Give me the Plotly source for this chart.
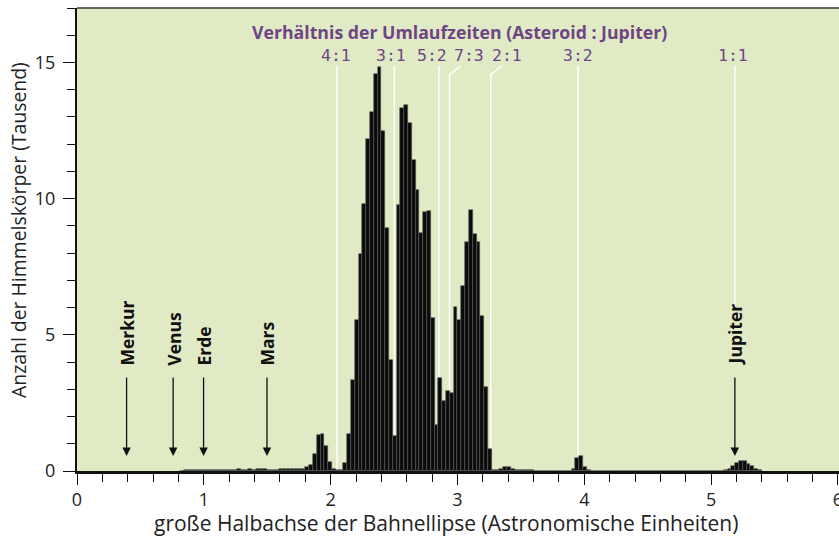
import plotly.graph_objects as go

# ---------------- data ----------------
bin_width = 0.03          # AU
first_bin_left = 0.81     # AU, left edge of first listed bin
counts = [  # thousands of bodies per bin, bins from 0.81 AU
    0.01, 0.02, 0.02, 0.03, 0.03, 0.03, 0.04, 0.04, 0.03, 0.04,   # 0.81-
    0.04, 0.05, 0.04, 0.05, 0.05, 0.06, 0.05, 0.05, 0.06, 0.05,   # 1.11-
    0.08, 0.09, 0.07, 0.05, 0.05, 0.05, 0.06, 0.06, 0.07,         # 1.41-
    0.06, 0.07, 0.07, 0.09, 0.13, 0.23, 0.62, 1.34, 1.37, 0.91,   # 1.68-
    0.33, 0.08, 0.03, 0.04, 0.30, 1.35, 3.33, 5.55, 7.97, 9.82,   # 1.98-
    12.19, 13.17, 14.58, 14.84, 12.48, 8.91, 4.07, 1.28, 9.76, 13.32,  # 2.28-
    13.43, 12.76, 11.42, 10.30, 8.75, 9.51, 9.55, 5.60, 1.68, 3.41,    # 2.58-
    2.58, 2.93, 2.88, 6.01, 5.54, 6.80, 8.42, 9.60, 8.69, 8.41,        # 2.88-
    5.70, 3.10, 0.79, 0.02, 0.05, 0.08, 0.13, 0.13, 0.09, 0.05,        # 3.18-
    0.04, 0.03, 0.02, 0.02, 0.01, 0.01, 0.01, 0.01, 0.01, 0.01,        # 3.48-
    0.01, 0.01, 0.01, 0.01, 0.09, 0.48, 0.56, 0.15, 0.02, 0.0,         # 3.78-
    0.0, 0.0, 0.0, 0.0, 0.0, 0.0, 0.0, 0.0, 0.0, 0.0,                  # 4.08-
    0.0, 0.0, 0.0, 0.0, 0.0, 0.0, 0.0, 0.0, 0.0, 0.0,                  # 4.38-
    0.0, 0.0, 0.0, 0.0, 0.0, 0.0, 0.0, 0.0, 0.0, 0.0,                  # 4.68-
    0.0, 0.0, 0.0, 0.0, 0.03, 0.08, 0.20, 0.30, 0.36, 0.35,            # 4.98-
    0.27, 0.17, 0.07, 0.02,                                            # 5.28-
]

# orbital resonances with Jupiter (label, position of gap in AU, label x)
resonance_labels = ["4:1", "3:1", "5:2", "7:3", "2:1", "3:2", "1:1"]
resonance_pos = [2.050, 2.502, 2.853, 2.937, 3.262, 3.950, 5.187]
resonance_label_x = [2.045, 2.478, 2.798, 3.094, 3.388, 3.947, 5.176]

planets = ["Merkur", "Venus", "Erde", "Mars", "Jupiter"]
planet_a = [0.391, 0.758, 0.998, 1.498, 5.187]

x_title = "große Halbachse der Bahnellipse (Astronomische Einheiten)"
y_title = "Anzahl der Himmelskörper (Tausend)"
top_title = "Verhältnis der Umlaufzeiten (Asteroid : Jupiter)"

# ---------------- figure ----------------
PURPLE = "#6e4584"
BG = "#e0ebc5"
FONT = "Open Sans"

x_centers = [first_bin_left + (i + 0.5) * bin_width for i in range(len(counts))]

fig = go.Figure()
fig.add_trace(go.Bar(
    x=x_centers, y=counts, width=bin_width,
    marker=dict(color="#0b0b0b", line=dict(color="#5a5a5a", width=0.6)),
    hoverinfo="skip",
))

shapes = []
LINE_TOP = 14.88
KINK = 14.55
for lab, pos in zip(resonance_labels, resonance_pos):
    if lab in ("7:3", "2:1"):
        shapes.append(dict(type="path", xref="x", yref="y", layer="below",
                           path=f"M {pos},0 L {pos},{KINK} L {pos + 0.09},{LINE_TOP}",
                           line=dict(color="white", width=1.5)))
    else:
        y0 = 5.95 if lab == "1:1" else 0
        shapes.append(dict(type="line", xref="x", yref="y", layer="below",
                           x0=pos, x1=pos, y0=y0, y1=LINE_TOP,
                           line=dict(color="white", width=1.5)))
# top frame line
shapes.append(dict(type="line", xref="paper", yref="paper", x0=0, x1=1, y0=1, y1=1,
                   line=dict(color="#3a3d2e", width=1.5)))

annotations = []
annotations.append(dict(x=459, y=31.7, xref="paper", yref="paper", text=f"<b>{top_title}</b>",
                        showarrow=False, xanchor="center", yanchor="middle",
                        font=dict(family=FONT, size=17.7, color=PURPLE)))
for lab, lx in zip(resonance_labels, resonance_label_x):
    annotations.append(dict(x=lx, y=15.25, xref="x", yref="y", text=lab, showarrow=False,
                            xanchor="center", yanchor="middle",
                            font=dict(family="DejaVu Sans Mono", size=16.5, color=PURPLE)))
for name, a in zip(planets, planet_a):
    annotations.append(dict(x=a, y=3.8, xref="x", yref="y", text=f"<b>{name}</b>",
                            showarrow=False, textangle=-90, xanchor="center", yanchor="bottom",
                            font=dict(family=FONT, size=17.5, color="#111")))
    annotations.append(dict(x=a, y=0.55, xref="x", yref="y", ax=a, ay=3.49,
                            axref="x", ayref="y", text="", showarrow=True,
                            arrowhead=2, arrowsize=1.3, arrowwidth=1.3, arrowcolor="#111"))
# axis titles as annotations (pixel positioned)
annotations.append(dict(x=446, y=523, xref="paper", yref="paper", text=x_title, showarrow=False,
                        xanchor="center", yanchor="middle",
                        font=dict(family=FONT, size=21, color="#222")))
annotations.append(dict(x=18.5, y=230.5, xref="paper", yref="paper", text=y_title, showarrow=False,
                        textangle=-90, xanchor="center", yanchor="middle",
                        font=dict(family=FONT, size=19.4, color="#222")))

W, H = 839, 538
ML, MR, MT, MB = 77, 0, 8, 67
pw, ph = W - ML - MR, H - MT - MB
# convert pixel-positioned paper annotations
for an in annotations:
    if an.get("xref") == "paper":
        an["x"] = (an["x"] - ML) / pw
        an["y"] = (H - MB - an["y"]) / ph

fig.update_layout(
    width=W, height=H,
    margin=dict(l=ML, r=MR, t=MT, b=MB, autoexpand=False),
    paper_bgcolor="white", plot_bgcolor=BG,
    showlegend=False, bargap=0,
    shapes=shapes, annotations=annotations,
    font=dict(family=FONT, size=16, color="#222"),
    xaxis=dict(range=[0, 6.008], tickmode="linear", tick0=0, dtick=1,
               ticks="outside", ticklen=11, tickwidth=1.3, tickcolor="#111",
               minor=dict(dtick=0.2, ticks="outside", ticklen=8, tickwidth=1, tickcolor="#111"),
               showline=True, linecolor="#111", linewidth=2.5,
               showgrid=False, zeroline=False, automargin=False, ticklabeloverflow="allow",
               tickfont=dict(family=FONT, size=18, color="#222")),
    yaxis=dict(range=[0, 17], tickmode="array", tickvals=[0, 5, 10, 15],
               ticks="outside", ticklen=12, tickwidth=1.3, tickcolor="#111",
               minor=dict(dtick=1, ticks="outside", ticklen=8, tickwidth=1, tickcolor="#111"),
               showline=True, linecolor="#111", linewidth=2,
               showgrid=False, zeroline=False, automargin=False, ticklabelstandoff=4,
               tickfont=dict(family=FONT, size=18, color="#222")),
)

fig.write_html("out.html", config={"displayModeBar": False},
               post_script="document.body.style.margin='0';document.body.style.overflow='hidden';")
